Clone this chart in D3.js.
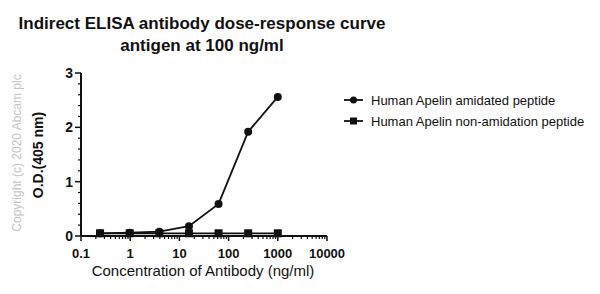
<!DOCTYPE html>
<html>
<head>
<meta charset="utf-8">
<script src="https://cdn.jsdelivr.net/npm/d3@7"></script>
<style>
  body { margin: 0; background: #fff; }
  svg { display: block; font-family: "Liberation Sans", Arial, sans-serif; }
</style>
</head>
<body>
<svg id="chart" width="600" height="294"></svg>
<script>
// dilution series (ng/ml) and O.D. readings
const concentrations = [0.244, 0.977, 3.906, 15.625, 62.5, 250, 1000];
const amidated = [0.05, 0.06, 0.08, 0.18, 0.59, 1.92, 2.56];
const nonAmidated = [0.05, 0.05, 0.05, 0.05, 0.05, 0.05, 0.05];
const seriesNames = ['Human Apelin amidated peptide', 'Human Apelin non-amidation peptide'];
const xTicks = [0.1, 1, 10, 100, 1000, 10000];
const xTickLabels = ['0.1', '1', '10', '100', '1000', '10000'];
const yTicks = [0, 1, 2, 3];

const svg = d3.select('#chart');

const x = d3.scaleLog().domain([0.1, 10000]).range([81, 327]);
const y = d3.scaleLinear().domain([0, 3]).range([236, 73]);

// title
const title = svg.append('text')
  .attr('text-anchor', 'middle')
  .attr('font-weight', 'bold')
  .attr('font-size', 17)
  .attr('fill', '#111');
title.append('tspan').attr('x', 202).attr('y', 29).text('Indirect ELISA antibody dose-response curve');
title.append('tspan').attr('x', 202).attr('y', 51).text('antigen at 100 ng/ml');

// copyright
svg.append('text')
  .attr('transform', 'translate(21,153) rotate(-90)')
  .attr('text-anchor', 'middle')
  .attr('font-size', 12)
  .attr('fill', '#c4c4c4')
  .text('Copyright (c) 2020 Abcam plc');

// axes
const minorX = [];
for (let d = 0.1; d < 10000; d *= 10) {
  for (let k = 2; k <= 9; k++) minorX.push(d * k);
}
const minorY = d3.range(0, 3.001, 0.2).filter(v => Math.abs(v - Math.round(v)) > 1e-6);

const axisG = svg.append('g').attr('stroke', '#111');
axisG.append('line').attr('x1', x(0.1)).attr('x2', x(10000))
  .attr('y1', y(0)).attr('y2', y(0)).attr('stroke-width', 2);
axisG.append('line').attr('x1', x(0.1)).attr('x2', x(0.1))
  .attr('y1', y(0)).attr('y2', y(3)).attr('stroke-width', 2);

axisG.selectAll('.xmaj').data(xTicks).enter().append('line')
  .attr('x1', d => x(d)).attr('x2', d => x(d))
  .attr('y1', y(0)).attr('y2', y(0) + 5).attr('stroke-width', 1.5);
axisG.selectAll('.xmin').data(minorX).enter().append('line')
  .attr('x1', d => x(d)).attr('x2', d => x(d))
  .attr('y1', y(0)).attr('y2', y(0) + 3).attr('stroke-width', 1.2);
axisG.selectAll('.ymaj').data(yTicks).enter().append('line')
  .attr('x1', x(0.1) - 6).attr('x2', x(0.1))
  .attr('y1', d => y(d)).attr('y2', d => y(d)).attr('stroke-width', 1.5);
axisG.selectAll('.ymin').data(minorY).enter().append('line')
  .attr('x1', x(0.1) - 3).attr('x2', x(0.1))
  .attr('y1', d => y(d)).attr('y2', d => y(d)).attr('stroke-width', 1.2);

svg.selectAll('.xlab').data(xTicks).enter().append('text')
  .attr('x', d => x(d)).attr('y', 258)
  .attr('text-anchor', 'middle')
  .attr('font-weight', 'bold').attr('font-size', 13).attr('fill', '#111')
  .text((d, i) => xTickLabels[i]);
svg.selectAll('.ylab').data(yTicks).enter().append('text')
  .attr('x', x(0.1) - 8).attr('y', d => y(d) + 5)
  .attr('text-anchor', 'end')
  .attr('font-weight', 'bold').attr('font-size', 14).attr('fill', '#111')
  .text(d => d);

svg.append('text')
  .attr('x', 203).attr('y', 276)
  .attr('text-anchor', 'middle').attr('font-size', 15).attr('fill', '#111')
  .text('Concentration of Antibody (ng/ml)');
svg.append('text')
  .attr('transform', 'translate(43,155) rotate(-90)')
  .attr('text-anchor', 'middle')
  .attr('font-weight', 'bold').attr('font-size', 14).attr('fill', '#111')
  .text('O.D.(405 nm)');

// series
const line = d3.line().x(d => x(d[0])).y(d => y(d[1]));
const sq = concentrations.map((c, i) => [c, nonAmidated[i]]);
const ci = concentrations.map((c, i) => [c, amidated[i]]);

svg.append('path').datum(sq).attr('d', line)
  .attr('fill', 'none').attr('stroke', '#111').attr('stroke-width', 1.8);
svg.selectAll('.sq').data(sq).enter().append('rect')
  .attr('x', d => x(d[0]) - 4).attr('y', d => y(d[1]) - 4)
  .attr('width', 8).attr('height', 8).attr('fill', '#111');

svg.append('path').datum(ci).attr('d', line)
  .attr('fill', 'none').attr('stroke', '#111').attr('stroke-width', 1.8);
svg.selectAll('.ci').data(ci).enter().append('circle')
  .attr('cx', d => x(d[0])).attr('cy', d => y(d[1])).attr('r', 4)
  .attr('fill', '#111');

// legend
const legend = svg.append('g').selectAll('g').data(seriesNames).enter().append('g')
  .attr('transform', (d, i) => `translate(344,${100 + i * 21})`);
legend.append('line').attr('x1', 0).attr('x2', 19).attr('y1', 0).attr('y2', 0)
  .attr('stroke', '#111').attr('stroke-width', 1.8);
legend.filter((d, i) => i === 0).append('circle')
  .attr('cx', 9.5).attr('cy', 0).attr('r', 3.5).attr('fill', '#111');
legend.filter((d, i) => i === 1).append('rect')
  .attr('x', 6).attr('y', -3.5).attr('width', 7).attr('height', 7).attr('fill', '#111');
legend.append('text').attr('x', 27).attr('y', 4.5)
  .attr('font-size', 13).attr('fill', '#111')
  .text(d => d);
</script>
</body>
</html>
